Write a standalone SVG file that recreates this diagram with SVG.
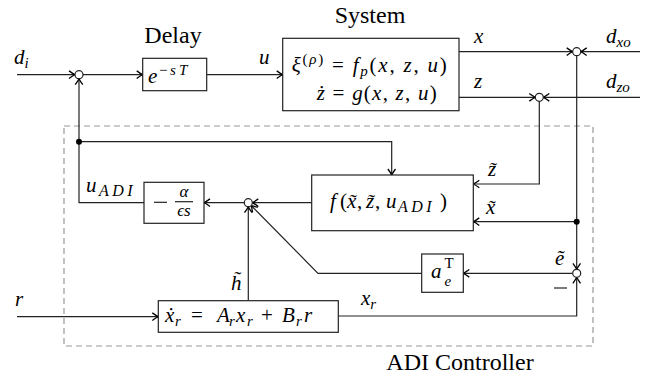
<svg xmlns="http://www.w3.org/2000/svg" width="662" height="379" viewBox="0 0 662 379">
<style>
.ln{fill:none;stroke:#222;stroke-width:1.2}
.bx{fill:#fff;stroke:#222;stroke-width:1.2}
.sum{fill:#fff;stroke:#222;stroke-width:1.2}
.dot{fill:#000}
.dash{fill:none;stroke:#999;stroke-width:1.2;stroke-dasharray:6 4}
.t{font-family:"Liberation Serif","Times New Roman",serif;font-size:24px;fill:#000}
.m{font-family:"Liberation Serif","Times New Roman",serif;font-style:italic;font-size:21px;fill:#000}
.up{font-style:normal}
.s{font-size:15px}
.adi{font-size:16px;letter-spacing:3.5px}
</style>
<defs>
<marker id="ar" viewBox="-7 -5 8 10" markerWidth="8" markerHeight="10" refX="0" refY="0" orient="auto" markerUnits="userSpaceOnUse">
<path d="M-6,-3.8 Q-2,-0.9 0,0 Q-2,0.9 -6,3.8" fill="none" stroke="#000" stroke-width="1.3"/>
</marker>
</defs>

<rect class="dash" x="64" y="126" width="529" height="220"/>
<text class="t" x="460" y="370" text-anchor="middle">ADI Controller</text>

<g id="connectors">
<path class="ln" marker-end="url(#ar)" d="M17,74.7H75"/>
<path class="ln" marker-end="url(#ar)" d="M83,74.7H142.7"/>
<path class="ln" marker-end="url(#ar)" d="M206.7,74.7H282.7"/>
<path class="ln" marker-end="url(#ar)" d="M459,51.7H572.7"/>
<path class="ln" marker-end="url(#ar)" d="M640,51.7H580.7"/>
<path class="ln" marker-end="url(#ar)" d="M459,97.3H535.3"/>
<path class="ln" marker-end="url(#ar)" d="M640,97.3H543.3"/>
<path class="ln" marker-end="url(#ar)" d="M539.3,101.3V184H473.3"/>
<path class="ln" marker-end="url(#ar)" d="M576.7,55.7V269.3"/>
<path class="ln" marker-end="url(#ar)" d="M576.7,221.7H473.3"/>
<path class="ln" marker-end="url(#ar)" d="M311.7,202.7H252.3"/>
<path class="ln" marker-end="url(#ar)" d="M244.3,202.7H204"/>
<path class="ln" marker-end="url(#ar)" d="M144,202.7H79V78.7"/>
<path class="ln" marker-end="url(#ar)" d="M79,141.7H391.7V175"/>
<path class="ln" marker-end="url(#ar)" d="M248.3,300.7V206.7"/>
<path class="ln" marker-end="url(#ar)" d="M572.7,273.3H463.3"/>
<path class="ln" marker-end="url(#ar)" d="M421.7,273.3H318L251.1,205.5"/>
<path class="ln" marker-end="url(#ar)" d="M17,316.7H158.3"/>
<path class="ln" marker-end="url(#ar)" d="M338.3,316H576.7V277.3"/>
<circle class="dot" cx="79" cy="141.7" r="3"/>
<circle class="dot" cx="576.7" cy="221.7" r="3"/>
</g>

<g id="labels">
<text class="m" x="14" y="64">d<tspan class="s" dy="4">i</tspan></text>
<text class="m" x="259" y="64">u</text>
<text class="m" x="474" y="43">x</text>
<text class="m" x="474" y="88">z</text>
<text class="m" x="606" y="43">d<tspan class="s" dy="4">xo</tspan></text>
<text class="m" x="606" y="88">d<tspan class="s" dy="4">zo</tspan></text>
<text class="m" x="488" y="176">z&#x303;</text>
<text class="m" x="486" y="214">x&#x303;</text>
<text class="m" x="86" y="192">u<tspan class="adi" x="99" dy="4">ADI</tspan></text>
<text class="m" x="231" y="290">h&#x303;</text>
<text class="m" x="15" y="306">r</text>
<text class="m" x="361" y="305">x<tspan class="s" dy="4">r</tspan></text>
<text class="m" x="555" y="265">&#x1EBD;</text>
<path class="ln" d="M554,288H567"/>
</g>

<g id="sum1"><circle class="sum" cx="79" cy="74.7" r="4"/></g>
<g id="sumX"><circle class="sum" cx="576.7" cy="51.7" r="4"/></g>
<g id="sumZ"><circle class="sum" cx="539.3" cy="97.3" r="4"/></g>
<g id="sumH"><circle class="sum" cx="248.3" cy="202.7" r="4"/></g>
<g id="sumE"><circle class="sum" cx="576.7" cy="273.3" r="4"/></g>

<g id="delay">
<text class="t" x="173" y="43" text-anchor="middle">Delay</text>
<rect class="bx" x="142.7" y="58.3" width="64" height="32.4"/>
<text class="m" x="148" y="83">e<tspan class="s" x="158" dy="-8">−</tspan><tspan class="s" x="170">s</tspan><tspan class="s" x="179">T</tspan></text>
</g>

<g id="system">
<text class="t" x="370" y="23" text-anchor="middle">System</text>
<rect class="bx" x="282.7" y="38.3" width="176.3" height="72.4"/>
<text class="m" x="291.7" y="71.5" textLength="155">ξ<tspan class="s" dy="-8"><tspan class="up">(</tspan>ρ<tspan class="up">)</tspan></tspan><tspan dy="8" class="up"> = </tspan>f<tspan class="s" dy="4">p</tspan><tspan dy="-4" class="up">(</tspan>x<tspan class="up">, </tspan>z<tspan class="up">, </tspan>u<tspan class="up">)</tspan></text>
<text class="m" x="316.7" y="100" textLength="120">ż<tspan class="up"> = </tspan>g<tspan class="up">(</tspan>x<tspan class="up">, </tspan>z<tspan class="up">, </tspan>u<tspan class="up">)</tspan></text>
</g>

<g id="fbox">
<rect class="bx" x="311.7" y="175" width="161.6" height="55.7"/>
<text class="m" x="330" y="208">f<tspan class="up" x="340">(</tspan><tspan x="347">x&#x303;</tspan><tspan class="up" x="357">,</tspan><tspan x="366">z&#x303;</tspan><tspan class="up" x="375">,</tspan><tspan x="386">u</tspan><tspan class="adi" x="398" dy="4">ADI</tspan><tspan class="up" x="440" dy="-4">)</tspan></text>
</g>

<g id="integrator">
<rect class="bx" x="144" y="182.3" width="60" height="41"/>
<path class="ln" d="M154,202.3H167"/>
<path class="ln" d="M175,201.7H193"/>
<text class="m" x="184" y="197" text-anchor="middle" style="font-size:17px">α</text>
<text class="m" x="184" y="216" text-anchor="middle" style="font-size:17px">ϵs</text>
</g>

<g id="gain">
<rect class="bx" x="421.7" y="254" width="41.6" height="38.3"/>
<text class="m" x="431" y="278">a</text>
<text class="m s up" x="444.5" y="268">T</text>
<text class="m s" x="444.5" y="286">e</text>
</g>

<g id="refmodel">
<rect class="bx" x="158.3" y="300.7" width="180" height="31.6"/>
<text class="m" x="165" y="322">ẋ<tspan class="s" x="175" dy="4">r</tspan><tspan class="up" x="191" dy="-4">=</tspan><tspan x="217">A</tspan><tspan class="s" x="229" dy="4">r</tspan><tspan x="236" dy="-4">x</tspan><tspan class="s" x="247" dy="4">r</tspan><tspan class="up" x="261" dy="-4">+</tspan><tspan x="282">B</tspan><tspan class="s" x="296" dy="4">r</tspan><tspan x="304" dy="-4">r</tspan></text>
</g>
</svg>
